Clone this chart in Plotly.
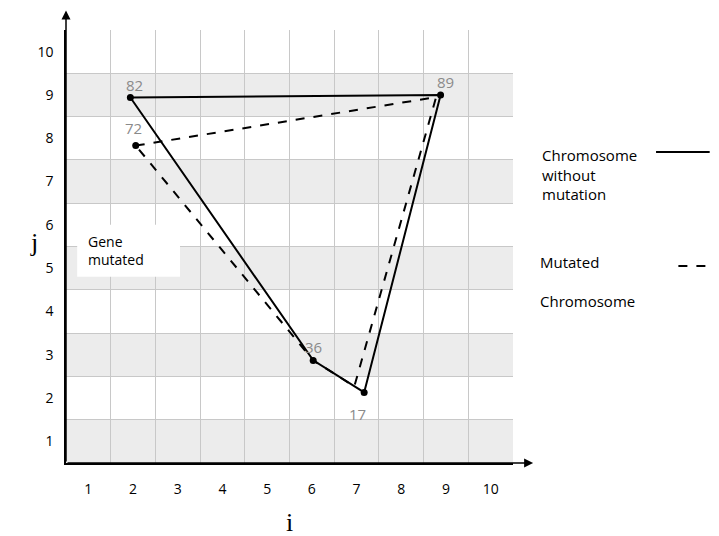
import plotly.graph_objects as go

# gene points (label, i, j)
labels = ["82", "89", "17", "36", "72"]
pos_i = {"82": 1.94, "89": 8.88, "17": 7.17, "36": 6.03, "72": 2.06}
pos_j = {"82": 8.94, "89": 9.0, "17": 2.13, "36": 2.87, "72": 7.83}

sans_mutation_i = [1.94, 8.88, 7.17, 6.03, 1.94]
sans_mutation_j = [8.94, 9.0, 2.13, 2.87, 8.94]
mutation_i = [2.06, 8.78, 6.95, 6.03, 2.06]
mutation_j = [7.83, 8.95, 2.27, 2.87, 7.83]

ticks = list(range(1, 11))
grid = [k + 0.5 for k in range(0, 11)]
bandes = [1, 3, 5, 7, 9]

fig = go.Figure()

fig.add_trace(go.Scatter(x=sans_mutation_i, y=sans_mutation_j,
                         mode="lines", line=dict(color="black", width=2), showlegend=False))
fig.add_trace(go.Scatter(x=mutation_i, y=mutation_j,
                         mode="lines", line=dict(color="black", width=2, dash="dash"), showlegend=False))
fig.add_trace(go.Scatter(x=[pos_i[p] for p in labels], y=[pos_j[p] for p in labels],
                         mode="markers", marker=dict(color="black", size=7), showlegend=False))

decal = {"82": (0.1, 0.3), "89": (0.1, 0.3), "17": (-0.15, -0.5), "36": (0, 0.3), "72": (-0.05, 0.4)}
for p in labels:
    fig.add_annotation(x=pos_i[p] + decal[p][0], y=pos_j[p] + decal[p][1], text=p, showarrow=False,
                       font=dict(size=15, color="#8a8a8a"))

for b in bandes:
    fig.add_shape(type="rect", x0=0.5, x1=10.5, y0=b - 0.5, y1=b + 0.5,
                  fillcolor="#ececec", line_width=0, layer="below")

# axis arrows
for x, y in [(0.5, 10.95), (10.95, 0.5)]:
    fig.add_annotation(x=x, y=y, ax=0.5, ay=0.5, xref="x", yref="y", axref="x", ayref="y",
                       showarrow=True, arrowhead=2, arrowsize=1.2, arrowwidth=1.5,
                       arrowcolor="black", text="")

# axis titles
fig.add_annotation(xref="paper", yref="paper", x=0.5, y=-0.1, yanchor="top", text="i", showarrow=False,
                   font=dict(family="Liberation Serif", size=26))
fig.add_annotation(xref="paper", yref="paper", x=-0.085, y=0.51, text="j", showarrow=False,
                   font=dict(family="Liberation Serif", size=26))

# gene mutated box
fig.add_shape(type="rect", x0=0.75, x1=3.05, y0=4.8, y1=6.0, fillcolor="white", line_width=0)
fig.add_annotation(x=0.95, y=5.4, text="Gene<br>mutated", showarrow=False, xanchor="left",
                   align="left", font=dict(size=14, color="black"))

# legend on the right
legende = dict(size=15, color="black")
fig.add_annotation(xref="paper", yref="paper", x=1.06, y=0.74, text="Chromosome<br>without<br>mutation",
                   showarrow=False, xanchor="left", align="left", font=legende)
fig.add_annotation(xref="paper", yref="paper", x=1.055, y=0.42, text="Mutated<br><br>Chromosome",
                   showarrow=False, xanchor="left", align="left", font=legende)
fig.add_shape(type="line", xref="paper", yref="paper", x0=1.32, x1=1.44, y0=0.718, y1=0.718,
              line=dict(color="black", width=2))
fig.add_shape(type="line", xref="paper", yref="paper", x0=1.37, x1=1.44, y0=0.455, y1=0.455,
              line=dict(color="black", width=2, dash="dash"))

fig.update_xaxes(range=[0.5, 10.5], tickvals=ticks, showgrid=False, zeroline=False, automargin=False,
                 showline=True, linecolor="black", linewidth=1.5, ticks="", ticklabelstandoff=12,
                 minor=dict(tickvals=grid, showgrid=True, gridcolor="#c8c8c8"))
fig.update_yaxes(range=[0.5, 10.5], tickvals=ticks, showgrid=False, zeroline=False, automargin=False,
                 showline=True, linecolor="black", linewidth=1.5, ticks="", ticklabelstandoff=8,
                 minor=dict(tickvals=grid, showgrid=True, gridcolor="#c8c8c8"))

fig.update_layout(width=719, height=536, plot_bgcolor="white", paper_bgcolor="white",
                  margin=dict(l=58, r=214, t=22, b=81),
                  font=dict(family="Open Sans", size=14, color="black"))

fig.write_html("out.html")
